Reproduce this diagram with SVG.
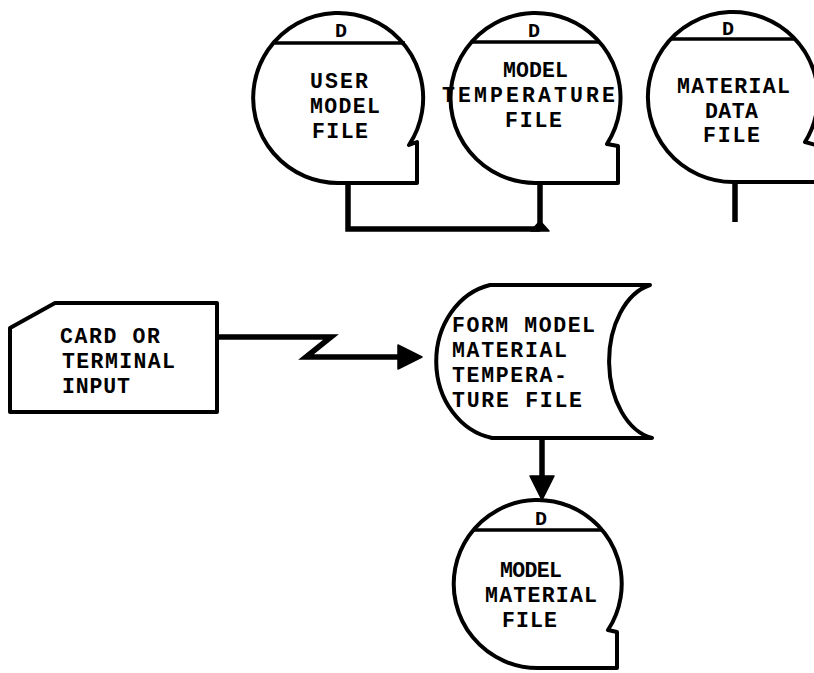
<svg xmlns="http://www.w3.org/2000/svg" width="814" height="673" viewBox="0 0 814 673">
<style>
.shape{fill:#fff;stroke:#000;stroke-width:4;stroke-linejoin:round}
.chord{stroke:#000;stroke-width:3.5;fill:none}
.conn{fill:none;stroke:#000;stroke-width:5.5;stroke-linejoin:miter}
.head{fill:#000;stroke:#000;stroke-width:1.5;stroke-linejoin:round}
text{font-family:"Liberation Mono","DejaVu Sans Mono",monospace;font-weight:bold;font-size:21.5px;fill:#000}
.d{font-size:20px;text-anchor:middle}
</style>
<rect width="814" height="673" fill="#fff"/>
<g id="connectors">
<path class="conn" d="M348 184 V229 H540"/>
<path class="conn" d="M540 184 V226"/>
<path class="head" d="M531 231 L540 221 L549 231 Z"/>
<path class="conn" d="M735 182 V222"/>
<path class="conn" d="M217 337 H331 L306 357 H402"/>
<path class="head" d="M398 345 L422 357 L398 369 Z"/>
<path class="conn" d="M542 438 V478"/>
<path class="head" d="M530 476 L554 476 L542 500 Z"/>
</g>
<g id="user-model-file">
<path class="shape" d="M340 183 A85 85 0 1 1 409 145 L417 142 V183 Z"/>
<line class="chord" x1="275" y1="43" x2="405" y2="43"/>
<text class="d" x="341" y="37">D</text>
<text x="310" y="88" textLength="58">USER</text>
<text x="310" y="113" textLength="70">MODEL</text>
<text x="312" y="138" textLength="56">FILE</text>
</g>
<g id="model-temperature-file">
<path class="shape" d="M535 183 A85 85 0 1 1 607 144 L618 146 V183 Z"/>
<line class="chord" x1="471" y1="42" x2="599" y2="42"/>
<text class="d" x="534" y="37">D</text>
<text x="503" y="77" textLength="65">MODEL</text>
<text x="442" y="102" textLength="173">TEMPERATURE</text>
<text x="505" y="127" textLength="57">FILE</text>
</g>
<g id="material-data-file">
<path class="shape" d="M733 182 A85 85 0 1 1 805 142 L816 145 V182 Z"/>
<line class="chord" x1="671" y1="39" x2="795" y2="39"/>
<text class="d" x="728" y="35">D</text>
<text x="677" y="93" textLength="113">MATERIAL</text>
<text x="705" y="118" textLength="53">DATA</text>
<text x="703" y="142" textLength="57">FILE</text>
</g>
<g id="card-or-terminal-input">
<path class="shape" d="M10 328 L55 303 H217 V412 H10 Z"/>
<text x="60" y="343" textLength="100">CARD OR</text>
<text x="62" y="368" textLength="113">TERMINAL</text>
<text x="62" y="393" textLength="68">INPUT</text>
</g>
<g id="form-model-material-temperature-file">
<path class="shape" d="M490 285 H650 A52 78 0 0 0 652 438 H492 A68 78 0 0 1 490 285 Z"/>
<text x="452" y="332" textLength="143">FORM MODEL</text>
<text x="452" y="357" textLength="115">MATERIAL</text>
<text x="452" y="382" textLength="115">TEMPERA-</text>
<text x="452" y="407" textLength="130">TURE FILE</text>
</g>
<g id="model-material-file">
<path class="shape" d="M538 668 A84 84 0 1 1 608 630 L617 632 V668 Z"/>
<line class="chord" x1="474" y1="530" x2="602" y2="530"/>
<text class="d" x="541" y="525">D</text>
<text x="500" y="577" textLength="62">MODEL</text>
<text x="485" y="602" textLength="112">MATERIAL</text>
<text x="502" y="627" textLength="55">FILE</text>
</g>
</svg>
